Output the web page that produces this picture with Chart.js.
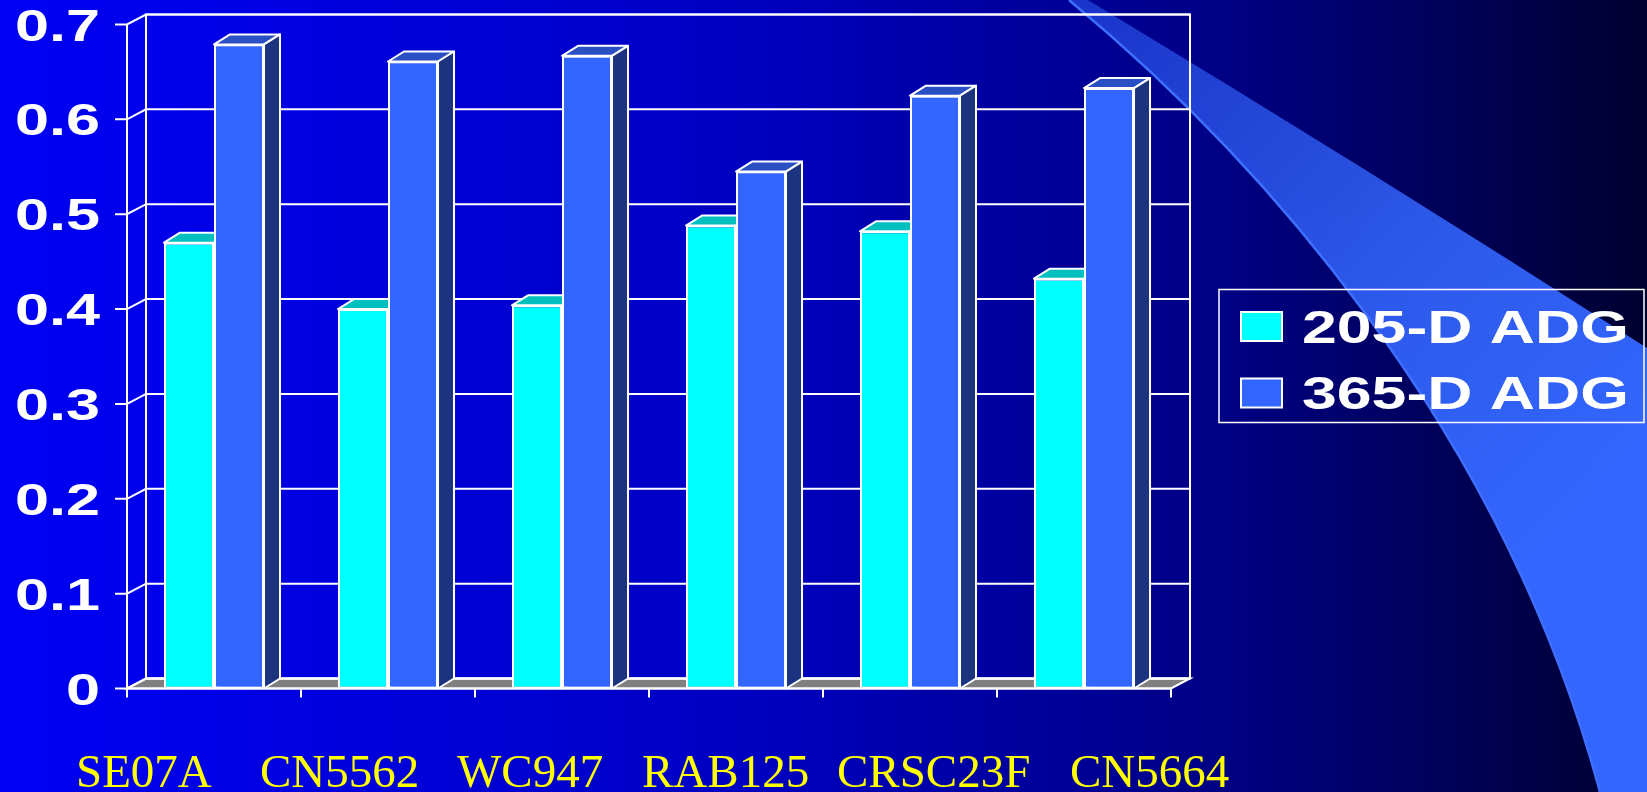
<!DOCTYPE html>
<html>
<head>
<meta charset="utf-8">
<title>205-D / 365-D ADG by sire</title>
<script src="https://cdn.jsdelivr.net/npm/chart.js@4.4.1/dist/chart.umd.min.js"></script>
<style>
  html, body { margin: 0; padding: 0; background: #000080; overflow: hidden; }
  #wrap { position: relative; width: 1647px; height: 792px; }
</style>
</head>
<body>
<div id="wrap"><canvas id="adgChart" width="1647" height="792"></canvas></div>
<script>
const sires = ['SE07A', 'CN5562', 'WC947', 'RAB125', 'CRSC23F', 'CN5664']
const seriesNames = ['205-D ADG', '365-D ADG']
const adg205 = [0.47, 0.40, 0.404, 0.488, 0.482, 0.432]
const adg365 = [0.679, 0.661, 0.667, 0.545, 0.625, 0.633]
const yTickLabels = ['0', '0.1', '0.2', '0.3', '0.4', '0.5', '0.6', '0.7']

// front / top / side shades for each series
const faceColors = [
  { front: '#00FFFF', top: '#00BFBF', side: '#008C8C' },
  { front: '#3366FF', top: '#2A4FC4', side: '#1C3480' }
]

const WALL_DX = 19, WALL_DY = -10
const BAR_DX = 16, BAR_DY = -10
const LINE = '#FFFFFF'
const SANS = '"Liberation Sans", Arial, sans-serif'
const SERIF = '"Liberation Serif", "Times New Roman", serif'

// left edge of each sire name in the caption line
const captionX = [76, 260, 457, 642, 837, 1070]

// stretched text, like the old slide fonts
function wideText(ctx, text, x, y, sx, align) {
  ctx.save()
  ctx.translate(x, y)
  ctx.scale(sx, 1)
  ctx.textAlign = align
  ctx.fillText(text, 0, 0)
  ctx.restore()
}

const backdrop = {
  id: 'backdrop',
  beforeDraw(chart) {
    const { ctx, width, height } = chart
    ctx.save()
    const bg = ctx.createLinearGradient(0, 0, width, 0)
    bg.addColorStop(0, '#0000F5')
    bg.addColorStop(0.45, '#0000C2')
    bg.addColorStop(0.75, '#000082')
    bg.addColorStop(1, '#000030')
    ctx.fillStyle = bg
    ctx.fillRect(0, 0, width, height)

    // the swoosh on the right side
    const sw = ctx.createLinearGradient(1069, 0, 1600, 500)
    sw.addColorStop(0, 'rgba(51,102,255,0.5)')
    sw.addColorStop(0.6, 'rgba(51,102,255,0.88)')
    sw.addColorStop(1, 'rgba(51,102,255,1)')
    ctx.beginPath()
    ctx.moveTo(1069, 0)
    ctx.bezierCurveTo(1250, 150, 1500, 420, 1600, height)
    ctx.lineTo(width, height)
    ctx.lineTo(width, 348)
    ctx.quadraticCurveTo(1370, 170, 1088, 0)
    ctx.closePath()
    ctx.fillStyle = sw
    ctx.fill()
    ctx.beginPath()
    ctx.moveTo(1069, 0)
    ctx.bezierCurveTo(1250, 150, 1500, 420, 1600, height)
    ctx.strokeStyle = '#3F6FFF'
    ctx.lineWidth = 2.5
    ctx.stroke()
    ctx.restore()
  }
}

const frame = {
  id: 'frame',
  beforeDatasetsDraw(chart) {
    const { ctx, chartArea: a, scales: { x, y } } = chart
    const b = y.getPixelForValue(0)
    const n = chart.data.labels.length
    const step = (a.right - a.left) / n
    ctx.save()
    ctx.strokeStyle = LINE
    ctx.lineWidth = 2

    // floor
    ctx.beginPath()
    ctx.moveTo(a.left, b)
    ctx.lineTo(a.right, b)
    ctx.lineTo(a.right + WALL_DX, b + WALL_DY)
    ctx.lineTo(a.left + WALL_DX, b + WALL_DY)
    ctx.closePath()
    ctx.fillStyle = '#808080'
    ctx.fill()
    ctx.stroke()

    // back wall
    ctx.strokeRect(a.left + WALL_DX, a.top + WALL_DY, a.right - a.left, b - a.top)

    // gridlines, running across the side wall onto the back wall
    y.ticks.forEach(t => {
      const py = y.getPixelForValue(t.value)
      ctx.beginPath()
      ctx.moveTo(a.left - 12, py)
      ctx.lineTo(a.left, py)
      ctx.lineTo(a.left + WALL_DX, py + WALL_DY)
      ctx.lineTo(a.right + WALL_DX, py + WALL_DY)
      ctx.stroke()
    })

    // front axes
    ctx.beginPath()
    ctx.moveTo(a.left, a.top)
    ctx.lineTo(a.left, b)
    ctx.lineTo(a.right, b)
    ctx.stroke()

    // category tick marks
    ctx.beginPath()
    for (let i = 0; i <= n; i++) {
      const px = x.getPixelForValue(0) - step / 2 + i * step
      ctx.moveTo(px, b)
      ctx.lineTo(px, b + 9)
    }
    ctx.stroke()

    // value labels
    ctx.fillStyle = LINE
    ctx.font = 'bold 44px ' + SANS
    ctx.textBaseline = 'alphabetic'
    y.ticks.forEach(t => {
      const py = y.getPixelForValue(t.value)
      wideText(ctx, t.label, 100, py + 16, 1.39, 'right')
    })
    ctx.restore()
  }
}

function drawFaces(ctx, meta, c) {
  meta.data.forEach(bar => {
    const { x, y, base, width } = bar.getProps(['x', 'y', 'base', 'width'], true)
    const l = x - width / 2
    const r = x + width / 2

    ctx.beginPath()
    ctx.moveTo(l, y)
    ctx.lineTo(l + BAR_DX, y + BAR_DY)
    ctx.lineTo(r + BAR_DX, y + BAR_DY)
    ctx.lineTo(r, y)
    ctx.closePath()
    ctx.fillStyle = c.top
    ctx.fill()
    ctx.stroke()

    ctx.beginPath()
    ctx.moveTo(r, y)
    ctx.lineTo(r + BAR_DX, y + BAR_DY)
    ctx.lineTo(r + BAR_DX, base + BAR_DY)
    ctx.lineTo(r, base)
    ctx.closePath()
    ctx.fillStyle = c.side
    ctx.fill()
    ctx.stroke()
  })
}

// Chart.js paints the first dataset last, so the boxes are finished here:
// the 205-D faces first, then the 365-D bars are painted again in front of them.
const bars3d = {
  id: 'bars3d',
  afterDatasetsDraw(chart) {
    const { ctx, chartArea } = chart
    ctx.save()
    ctx.strokeStyle = LINE
    ctx.lineWidth = 2
    ctx.lineJoin = 'round'
    chart.data.datasets.forEach((ds, i) => {
      const meta = chart.getDatasetMeta(i)
      if (i > 0) meta.data.forEach(bar => bar.draw(ctx, chartArea))
      ctx.strokeStyle = LINE
      ctx.lineWidth = 2
      drawFaces(ctx, meta, faceColors[i])
    })
    ctx.restore()
  }
}

const overlay = {
  id: 'overlay',
  afterDraw(chart) {
    const { ctx } = chart
    ctx.save()

    // legend box
    ctx.strokeStyle = LINE
    ctx.lineWidth = 1.5
    ctx.strokeRect(1219, 289.5, 425, 133)
    ctx.font = 'bold 46px ' + SANS
    ctx.textBaseline = 'alphabetic'
    chart.data.datasets.forEach((ds, i) => {
      const top = 312 + i * 66.5
      ctx.fillStyle = ds.backgroundColor
      ctx.fillRect(1241, top, 41, 29)
      ctx.lineWidth = 2
      ctx.strokeRect(1241, top, 41, 29)
      ctx.fillStyle = LINE
      wideText(ctx, ds.label, 1302, top + 30.5, 1.36, 'left')
    })

    // sire names along the bottom
    ctx.fillStyle = '#FFFF00'
    ctx.font = '47px ' + SERIF
    ctx.textAlign = 'left'
    chart.data.labels.forEach((name, i) => {
      ctx.fillText(name, captionX[i], 787)
    })
    ctx.restore()
  }
}

new Chart(document.getElementById('adgChart'), {
  type: 'bar',
  data: {
    labels: sires,
    datasets: [
      {
        label: seriesNames[0],
        data: adg205,
        backgroundColor: faceColors[0].front,
        borderColor: LINE,
        borderWidth: 2,
        borderSkipped: false
      },
      {
        label: seriesNames[1],
        data: adg365,
        backgroundColor: faceColors[1].front,
        borderColor: LINE,
        borderWidth: 2,
        borderSkipped: false
      }
    ]
  },
  options: {
    responsive: false,
    animation: false,
    layout: { padding: { left: 127, right: 476, top: 24.5, bottom: 103.5 } },
    datasets: { bar: { categoryPercentage: 0.575, barPercentage: 1 } },
    plugins: {
      legend: { display: false },
      tooltip: { enabled: false }
    },
    scales: {
      x: {
        ticks: { display: false },
        grid: { display: false, drawTicks: false },
        border: { display: false }
      },
      y: {
        min: 0,
        max: 0.7,
        ticks: {
          display: false,
          stepSize: 0.1,
          callback: (v, i) => yTickLabels[i]
        },
        grid: { display: false, drawTicks: false },
        border: { display: false }
      }
    }
  },
  plugins: [backdrop, frame, bars3d, overlay]
})
</script>
</body>
</html>
